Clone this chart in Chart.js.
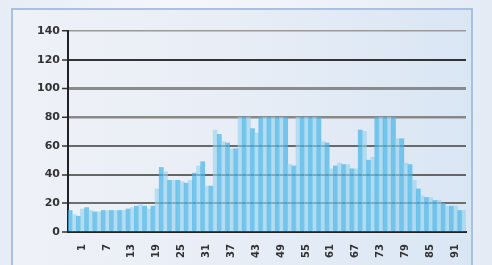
<!DOCTYPE html>
<html>
<head>
<meta charset="utf-8">
<script src="https://cdn.jsdelivr.net/npm/chart.js@4.4.0/dist/chart.umd.min.js"></script>
<style>
    html, body { margin: 0; padding: 0; }
    body {
        width: 492px; height: 265px; overflow: hidden; position: relative;
        background: linear-gradient(90deg, #e7edf6 0%, #f4f6fb 35%, #eef2f8 70%, #e4ebf5 100%);
    }
    #panel {
        position: absolute; left: 11px; top: 8px; width: 462px; height: 275px;
        box-sizing: border-box; border: 2px solid #a8c0e2;
        background: linear-gradient(90deg, #eef1f7 0%, #e9eef6 45%, #d9e6f4 100%);
    }
    #wrap { position: absolute; left: 0; top: 0; width: 492px; height: 265px; }
</style>
</head>
<body>
<div id="panel"></div>
<div id="wrap"><canvas id="chart"></canvas></div>
<script>
const categories = [
    1, 2, 3, 4, 5, 6, 7, 8, 9, 10, 11, 12, 13, 14, 15, 16, 17, 18, 19, 20, 21, 22, 23, 24,
    25, 26, 27, 28, 29, 30, 31, 32, 33, 34, 35, 36, 37, 38, 39, 40, 41, 42, 43, 44, 45, 46, 47, 48,
    49, 50, 51, 52, 53, 54, 55, 56, 57, 58, 59, 60, 61, 62, 63, 64, 65, 66, 67, 68, 69, 70, 71, 72,
    73, 74, 75, 76, 77, 78, 79, 80, 81, 82, 83, 84, 85, 86, 87, 88, 89, 90, 91, 92, 93, 94, 95, 96
];

const values = [
    15, 12, 11, 16, 17, 15, 14, 14, 15, 15, 15, 15, 15, 15, 16, 17, 18, 19, 18, 16, 18, 30, 45, 42,
    36, 36, 36, 35, 34, 36, 41, 46, 49, 32, 32, 71, 68, 63, 62, 58, 58, 80, 80, 80, 72, 69, 80, 80,
    80, 80, 80, 80, 80, 47, 46, 80, 80, 80, 80, 80, 80, 63, 62, 44, 46, 48, 47, 47, 44, 44, 71, 70,
    50, 52, 80, 80, 80, 80, 80, 65, 65, 48, 47, 36, 30, 25, 24, 24, 22, 22, 20, 18, 18, 18, 15, 15
];

const xTickLabels = ['1', '7', '13', '19', '25', '31', '37', '43', '49', '55', '61', '67', '73', '79', '85', '91'];
const yTicks = [0, 20, 40, 60, 80, 100, 120, 140];

// grid lines in the picture are not all the same weight
const gridColors = { 20: '#6f6f6f', 40: '#666', 60: '#6a6a6a', 80: '#888', 100: '#8a8a8a', 120: '#333', 140: '#9a9a9a' };
const gridWidths = { 20: 2, 40: 2, 60: 2, 80: 2.5, 100: 3, 120: 2, 140: 1.5 };

const ctx = document.getElementById('chart').getContext('2d');

new Chart(ctx, {
    type: 'bar',
    data: {
        labels: categories,
        datasets: [{
            data: values,
            backgroundColor: values.map((v, i) => i % 2 === 0 ? 'rgba(72, 182, 232, 0.72)' : 'rgba(150, 210, 238, 0.62)'),
            borderWidth: 0,
            barPercentage: 1,
            categoryPercentage: 1
        }]
    },
    options: {
        responsive: true,
        maintainAspectRatio: false,
        devicePixelRatio: 1,
        animation: false,
        layout: { padding: { left: 0, right: 26, top: 31, bottom: 0 } },
        plugins: {
            legend: { display: false },
            tooltip: { enabled: false }
        },
        scales: {
            x: {
                grid: { display: false },
                border: { display: true, color: '#222', width: 2 },
                ticks: {
                    autoSkip: false,
                    minRotation: 90,
                    maxRotation: 90,
                    labelOffset: 12,
                    padding: 4,
                    color: '#333',
                    font: { family: 'DejaVu Sans', weight: 'bold', size: 10 },
                    callback: (value, index) => index % 6 === 0 ? xTickLabels[index / 6] : ''
                },
                afterFit: (scale) => { scale.height = 33; }
            },
            y: {
                min: 0,
                max: 140,
                afterBuildTicks: (scale) => { scale.ticks = yTicks.map(v => ({ value: v })); },
                grid: {
                    color: (c) => gridColors[c.tick && c.tick.value] || '#666',
                    lineWidth: (c) => gridWidths[c.tick && c.tick.value] || 2,
                    tickLength: 6,
                    tickColor: '#333',
                    tickWidth: 1.5
                },
                border: { display: true, color: '#222', width: 2 },
                ticks: {
                    padding: 2,
                    color: '#333',
                    font: { family: 'DejaVu Sans', weight: 'bold', size: 11 }
                },
                afterFit: (scale) => { scale.width = 68; }
            }
        }
    }
});
</script>
</body>
</html>
